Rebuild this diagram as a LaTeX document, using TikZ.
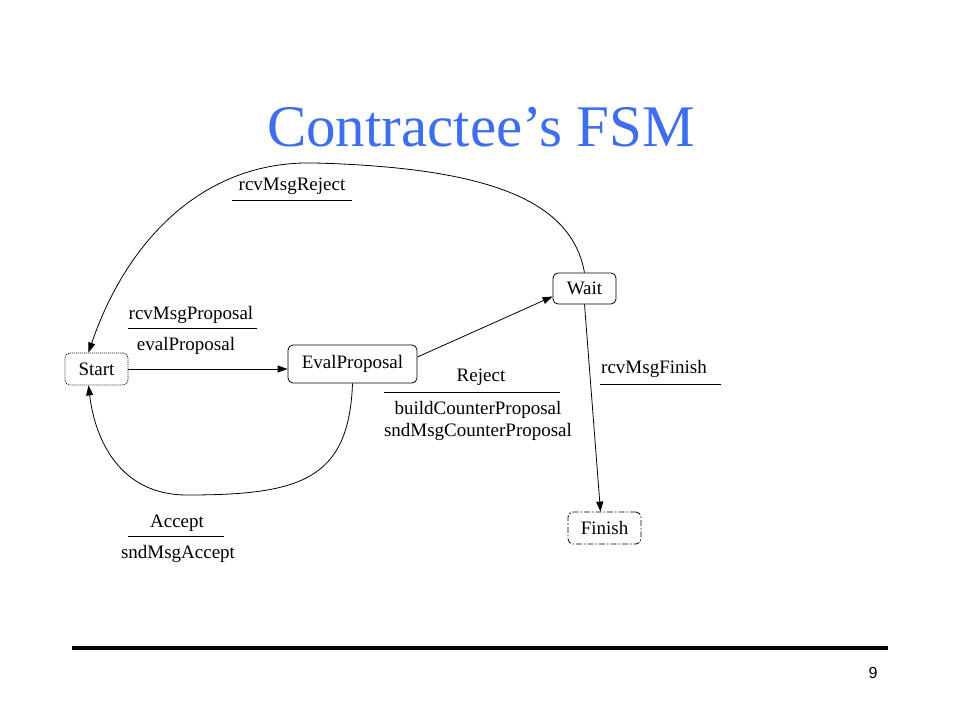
\documentclass[tikz,border=0pt]{standalone}
\usepackage{fontspec}
\setmainfont{Liberation Serif}
\newfontfamily\pagenumfont{Liberation Sans}
\usetikzlibrary{arrows.meta,calc}
\definecolor{titleblue}{RGB}{62,110,240}
\begin{document}
\begin{tikzpicture}[x=1pt,y=-1pt,
  lbl/.style={font=\fontsize{19}{22}\selectfont, inner sep=0pt, text height=13pt, text depth=4pt},
  statebox/.style={draw, rounded corners=5pt, line width=0.8pt, font=\fontsize{19}{22}\selectfont, inner sep=0pt},
  conn/.style={line width=0.8pt, -{Triangle[length=10pt,width=7pt]}},
  bar/.style={line width=0.8pt}
]
\useasboundingbox (0,0) rectangle (960,720);
% title
\node[anchor=base, font=\fontsize{59}{64}\selectfont, text=titleblue, inner sep=0pt] (title) at (481,146) {Contractee’s FSM};
% states
\node[statebox, dash pattern=on 1pt off 1pt, minimum width=63pt, minimum height=32pt] (Start) at (96.5,369) {Start};
\node[statebox, minimum width=129pt, minimum height=38pt] (Eval) at (352.5,364) {EvalProposal};
\node[statebox, minimum width=63pt, minimum height=31pt] (Wait) at (584.5,288.5) {Wait};
\node[statebox, dash pattern=on 6pt off 2pt on 1.5pt off 2pt, minimum width=73pt, minimum height=32pt] (Finish) at (604.5,528) {Finish};
% transitions
\draw[conn] (Start.east) -- (Start.east -| Eval.west);
\draw[conn] ($(Eval.east)+(0,-7)$) -- ($(Wait.west)+(0,8)$);
\draw[conn] (Wait.south) -- ($(Finish.north)+(-4,0)$);
\coordinate (rejA) at ($(Wait.north)+(0,0)$);
\coordinate (rejB) at ($(Start.north)+(-8,0)$);
\draw[conn] (rejA) .. controls (572,205) and (500,168) .. (315,163)
   .. controls (200,160) and (125,245) .. (rejB);
\coordinate (accA) at ($(Eval.south)+(0,0)$);
\coordinate (accB) at ($(Start.south)+(-8,0)$);
\draw[conn] (accA) .. controls (349,480) and (300,495) .. (187,495)
   .. controls (120,495) and (95,440) .. (accB);
% labels
\node[lbl] (l1) at (292,186) {rcvMsgReject};
\draw[bar] (232,200) -- (352,200);
\node[lbl] (l2) at (191,315) {rcvMsgProposal};
\draw[bar] (128,328) -- (257,328);
\node[lbl] (l3) at (186,346) {evalProposal};
\node[lbl] (l4) at (481,377) {Reject};
\draw[bar] (384,392) -- (560,392);
\node[lbl] (l5) at (478,410) {buildCounterProposal};
\node[lbl] (l6) at (478,432) {sndMsgCounterProposal};
\node[lbl] (l7) at (654,369) {rcvMsgFinish};
\draw[bar] (600,384) -- (721,384);
\node[lbl] (l8) at (177,523) {Accept};
\draw[bar] (128,536) -- (224,536);
\node[lbl] (l9) at (178,554) {sndMsgAccept};
% footer
\draw[line width=3.5pt] (72,648) -- (888,648);
\node[font=\pagenumfont\fontsize{16}{18}\selectfont, inner sep=0pt] (pg) at (873,673) {9};
\end{tikzpicture}
\end{document}
